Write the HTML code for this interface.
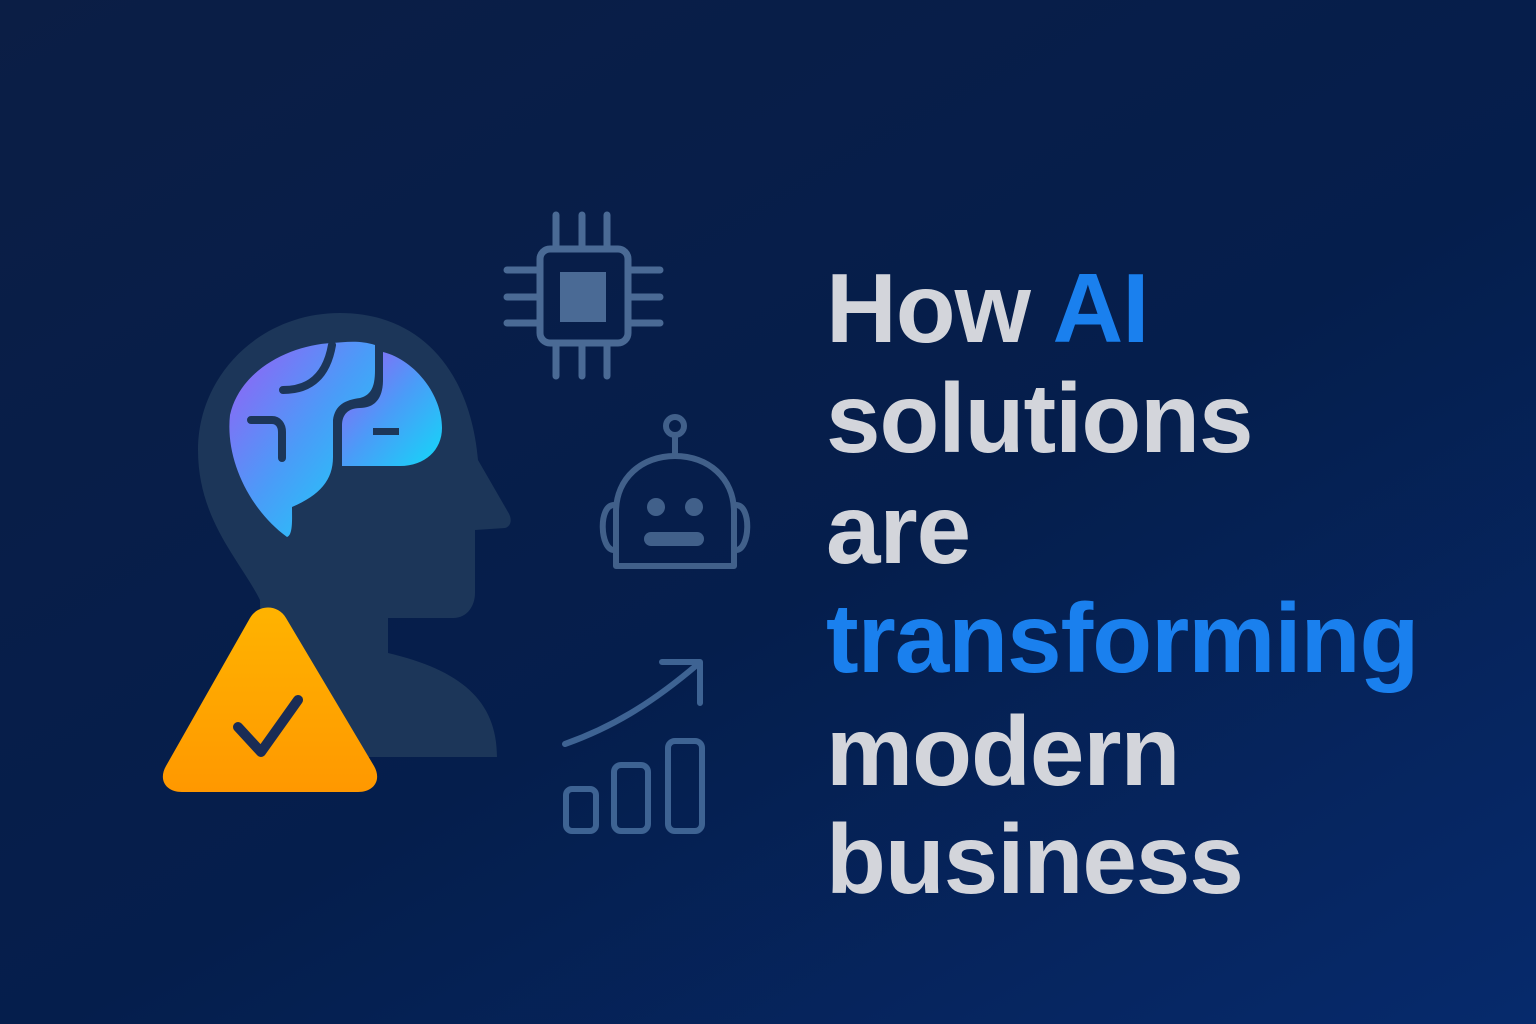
<!DOCTYPE html>
<html><head><meta charset="utf-8"><style>
html,body{margin:0;padding:0}
body{width:1536px;height:1024px;overflow:hidden;background:linear-gradient(150deg,#0b1e45 0%,#051e4c 55%,#062a6c 100%);font-family:"Liberation Sans",sans-serif}
svg{position:absolute;left:0;top:0}
.t{font-family:"Liberation Sans",sans-serif;font-weight:bold;font-size:98px;fill:#d3d5db;letter-spacing:-1px}
.b{fill:#1a80ee}
</style></head><body>
<svg width="1536" height="1024" viewBox="0 0 1536 1024">
<defs>
<linearGradient id="br" x1="0" y1="0" x2="1" y2="1">
<stop offset="0" stop-color="#9a5cf5"/><stop offset="0.5" stop-color="#4a9cf8"/><stop offset="1" stop-color="#12d8f8"/>
</linearGradient>
<linearGradient id="tr" x1="0" y1="0" x2="0" y2="1">
<stop offset="0" stop-color="#ffb300"/><stop offset="1" stop-color="#ff9800"/>
</linearGradient>
</defs>
<!-- head -->
<path fill="#1c3659" d="M340 313 C260 313 198 375 198 450 C198 520 240 560 260 600 L262 757 L497 757 C497 700 460 670 388 653 L388 618 L453 618 C468 618 475 605 475 593 L475 530 L505 528 C512 526 512 518 508 512 L478 460 C470 370 420 313 340 313 Z"/>
<!-- brain -->
<path fill="url(#br)" d="M332 343 C290 345 240 370 230 415 C225 460 250 510 287 537 C293 535 292 520 292 507 C320 495 333 480 333 457 L333 420 C335 405 345 400 360 398 C372 395 375 385 375 370 L375 345 C360 340 345 342 332 343 Z"/>
<path fill="url(#br)" d="M383 352 L383 380 C383 398 375 408 360 408 C348 408 342 415 342 425 L342 466 L400 466 C425 466 442 450 442 428 C442 395 415 360 383 352 Z"/>
<g stroke="#1c3659" stroke-width="8" fill="none" stroke-linecap="round">
<path d="M283 390 C300 390 325 385 332 345"/>
<path d="M251 420 L272 420 C278 420 282 425 282 432 L282 458"/>
</g>
<rect x="373" y="428" width="26" height="7" fill="#1c3659"/>
<!-- triangle -->
<path fill="url(#tr)" d="M250 618 C258 604 278 604 286 618 L374 766 C382 780 374 792 358 792 L182 792 C166 792 158 780 166 766 Z"/>
<path d="M238 727 L261 752 L298 700" stroke="#1a2c55" stroke-width="10" fill="none" stroke-linecap="round" stroke-linejoin="round"/>
<!-- chip -->
<g stroke="#4a6a95" stroke-width="7" fill="none" stroke-linecap="round">
<rect x="540" y="249" width="88" height="94" rx="10"/>
<path d="M556 215V247M582 215V247M607 215V247M556 345V376M582 345V376M607 345V376M507 270H538M507 297H538M507 323H538M630 270H660M630 297H660M630 323H660"/>
</g>
<rect x="560" y="272" width="46" height="50" fill="#4a6a95"/>
<!-- robot -->
<g stroke="#41608a" stroke-width="6" fill="none" stroke-linecap="round">
<circle cx="675" cy="426" r="9"/>
<path d="M675 435V456"/>
<path d="M616 566 L616 512 C616 478 642 456 675 456 C708 456 734 478 734 512 L734 566 Z" stroke-linejoin="round"/>
<path d="M614 505 C598 505 600 550 614 550 M736 505 C752 505 750 550 736 550"/>
</g>
<circle cx="656" cy="507" r="9" fill="#41608a"/><circle cx="694" cy="507" r="9" fill="#41608a"/>
<rect x="644" y="532" width="60" height="14" rx="7" fill="#41608a"/>
<!-- chart -->
<g stroke="#3e6393" stroke-width="6" fill="none" stroke-linecap="round" stroke-linejoin="round">
<path d="M565 744 C610 728 650 705 698 664"/>
<path d="M662 662 H700 V703"/>
<rect x="566" y="789" width="30" height="42" rx="6"/>
<rect x="614" y="765" width="34" height="66" rx="7"/>
<rect x="668" y="741" width="34" height="90" rx="7"/>
</g>
<!-- text -->
<text class="t" x="826" y="342">How <tspan class="b">AI</tspan></text>
<text class="t" x="826" y="452">solutions</text>
<text class="t" x="826" y="563">are</text>
<text class="t b" x="826" y="672">transforming</text>
<text class="t" x="826" y="785">modern</text>
<text class="t" x="826" y="893">business</text>
</svg>
</body></html>
